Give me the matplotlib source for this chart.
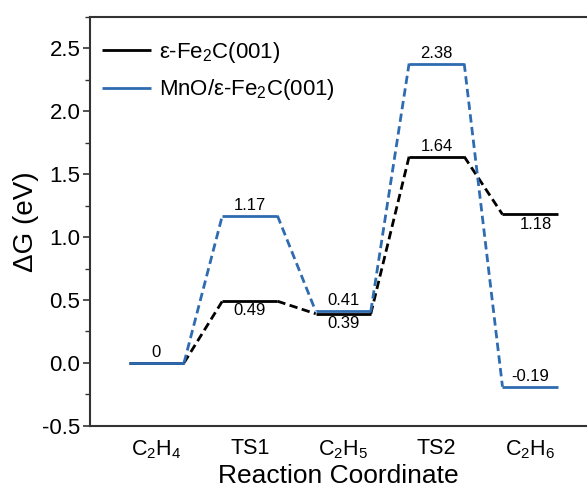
import matplotlib
matplotlib.use("Agg")
import matplotlib.pyplot as plt
from matplotlib.ticker import MultipleLocator

plt.rcParams['font.family'] = ['Liberation Sans', 'DejaVu Sans']
plt.rcParams['mathtext.fontset'] = 'custom'
plt.rcParams['mathtext.rm'] = 'Liberation Sans'

steps = ['C$_2$H$_4$', 'TS1', 'C$_2$H$_5$', 'TS2', 'C$_2$H$_6$']
fe2c = [0.0, 0.49, 0.39, 1.64, 1.18]
mno = [0.0, 1.17, 0.41, 2.38, -0.19]
fe2c_labels = [None, '0.49', '0.39', '1.64', '1.18']
mno_labels = ['0', '1.17', '0.41', '2.38', '-0.19']
series_names = ['ε-Fe$_2$C(001)', 'MnO/ε-Fe$_2$C(001)']
yticks = [-0.5, 0.0, 0.5, 1.0, 1.5, 2.0, 2.5]

black = '#000000'
blue = '#2E6BB0'
hw = 0.295
lw = 2.0

fig = plt.figure(figsize=(5.87, 4.92), dpi=100)
ax = fig.add_axes([90/587, 1-425.7/492, 1-90/587, (425.7-17)/492])

def draw(vals, color, name):
    xs = range(1, len(vals)+1)
    for i, (x, v) in enumerate(zip(xs, vals)):
        ax.plot([x-hw, x+hw], [v, v], color=color, lw=lw, solid_capstyle='butt',
                label=name if i == 0 else None, zorder=3)
        if i < len(vals)-1:
            ax.plot([x+hw, x+1-hw], [v, vals[i+1]], color=color, lw=lw,
                    linestyle=(0, (3, 1.6)), zorder=2)

draw(fe2c, black, series_names[0])
draw(mno, blue, series_names[1])

fs_val = 12
for i, (v, t) in enumerate(zip(mno, mno_labels)):
    if t is None:
        continue
    ax.annotate(t, (i+1, v), xytext=(0, 2), textcoords='offset points',
                ha='center', va='bottom', fontsize=fs_val)
for i, (v, t) in enumerate(zip(fe2c, fe2c_labels)):
    if t is None:
        continue
    if t == '1.64':
        ax.annotate(t, (i+1, v), xytext=(0, 2), textcoords='offset points',
                    ha='center', va='bottom', fontsize=fs_val)
    else:
        ax.annotate(t, (i+1, v), xytext=(4 if t == '1.18' else 0, -1.5),
                    textcoords='offset points',
                    ha='center', va='top', fontsize=fs_val)

ax.set_xlim(0.288, 5.61)
ax.set_ylim(-0.5, 2.75)
ax.set_xticks(range(1, len(steps)+1))
ax.set_xticklabels(steps, fontsize=15.5)
ax.yaxis.set_minor_locator(MultipleLocator(0.25))
ax.set_yticks(yticks)
ax.set_yticklabels([f'{t:.1f}' for t in yticks], fontsize=16)
ax.tick_params(axis='x', length=0, pad=9)
ax.tick_params(axis='y', which='major', direction='out', length=5, width=1.2,
               color='#333333', pad=2)
ax.tick_params(axis='y', which='minor', direction='out', length=3.5, width=1.0,
               color='#333333')

for s in ['left', 'bottom', 'top']:
    ax.spines[s].set_linewidth(1.5)
    ax.spines[s].set_color('#333333')
ax.spines['right'].set_visible(False)

ax.set_ylabel('ΔG (eV)', fontsize=20, labelpad=2)
ax.set_xlabel('Reaction Coordinate', fontsize=19, labelpad=2)

ax.legend(loc='upper left', frameon=False, fontsize=16, handlelength=2.2,
          handletextpad=0.35, labelspacing=0.55, borderaxespad=0.15,
          bbox_to_anchor=(0.0, 0.973))

fig.savefig('out.png', dpi=100)
